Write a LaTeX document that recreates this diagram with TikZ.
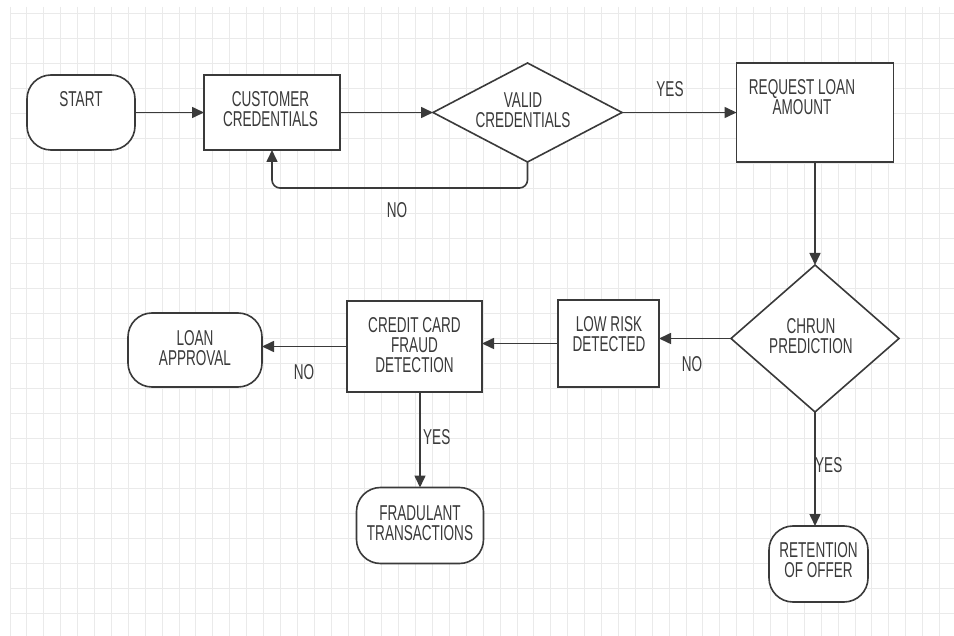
\documentclass[tikz,border=0pt]{standalone}
\usepackage{fontspec}
\setmainfont[FakeStretch=0.63]{Liberation Sans}
\usetikzlibrary{calc}
\usetikzlibrary{arrows.meta}
\usetikzlibrary{shapes.geometric}

\definecolor{inkgray}{HTML}{3A3A3A}
\definecolor{gridgray}{HTML}{EAEAEA}

\tikzset{
	gridline/.style={draw=gridgray, line width=0.9pt},
	procbox/.style={rectangle, draw=inkgray, line width=1.6pt, fill=white, inner sep=0pt, outer sep=0pt},
	termbox/.style={procbox, rounded corners=24pt},
	decbox/.style={diamond, draw=inkgray, line width=1.6pt, fill=white, inner sep=0pt, outer sep=0pt},
	boxtext/.style={align=center, text=inkgray, inner sep=0pt, font=\fontsize{21.5}{20}\selectfont},
	flow/.style={draw=inkgray, line width=1.6pt, -{Triangle[length=12pt,width=11pt]}},
}

\begin{document}
\begin{tikzpicture}[x=1pt, y=-1pt]
		\useasboundingbox (0,0) rectangle (954,636);
		\fill[white] (0,0) rectangle (954,636);
		\foreach \gx in {0,...,55} {
			\draw[gridline] ({10+16.9*\gx},7) -- ({10+16.9*\gx},636);
		}
		\foreach \gy in {0,...,24} {
			\draw[gridline] (10,{13+25*\gy}) -- (954,{13+25*\gy});
		}

		\node[termbox, minimum width=108pt, minimum height=75pt] (start) at (81,112.5) {};
		\node[procbox, minimum width=136pt, minimum height=75pt] (cust) at (272,112.5) {};
		\node[decbox, minimum width=189pt, minimum height=99pt] (valid) at (527.5,112.5) {};
		\node[procbox, minimum width=157pt, minimum height=99pt] (request) at (815,112.5) {};
		\node[decbox, minimum width=168pt, minimum height=147pt] (chrun) at (815,338.5) {};
		\node[procbox, minimum width=101pt, minimum height=87pt] (lowrisk) at (608.5,343.5) {};
		\node[procbox, minimum width=135pt, minimum height=91pt] (credit) at (414.5,346.5) {};
		\node[termbox, minimum width=134pt, minimum height=74pt] (loan) at (195,350) {};
		\node[termbox, minimum width=127pt, minimum height=76pt] (fraud) at (420,525.5) {};
		\node[termbox, minimum width=99pt, minimum height=76pt] (retention) at (818.5,564) {};

		\node[boxtext] (tStart) at (81,99.5) {START};
		\node[boxtext] (tCust) at (270.5,109.5) {CUSTOMER\\CREDENTIALS};
		\node[boxtext] (tValid) at (523,110.5) {VALID\\CREDENTIALS};
		\node[boxtext] (tRequest) at (802,97.5) {REQUEST LOAN\\AMOUNT};
		\node[boxtext] (tChrun) at (811,336.5) {CHRUN\\PREDICTION};
		\node[boxtext] (tLowrisk) at (609,334.5) {LOW RISK\\DETECTED};
		\node[boxtext] (tCredit) at (414.5,345) {CREDIT CARD\\FRAUD\\DETECTION};
		\node[boxtext] (tLoan) at (195,348) {LOAN\\APPROVAL};
		\node[boxtext] (tFraud) at (420,523.5) {FRADULANT\\TRANSACTIONS};
		\node[boxtext] (tRetention) at (818.5,560.5) {RETENTION\\OF OFFER};

		\draw[flow] (start.east) -- (cust.west);
		\draw[flow] (cust.east) -- (valid.west);
		\draw[flow] (valid.east) -- (request.west);
		\draw[flow, rounded corners=8pt] (valid.south) -- ++(0,26) -| (cust.south);
		\draw[flow] (request.south) -- (chrun.north);
		\draw[flow] (chrun.west) -- (chrun.west -| lowrisk.east);
		\draw[flow] (lowrisk.west) -- (lowrisk.west -| credit.east);
		\draw[flow] (credit.west) -- (credit.west -| loan.east);
		\draw[flow] (fraud.north |- credit.south) -- (fraud.north);
		\draw[flow] (chrun.south) -- (chrun.south |- retention.north);

		\node[boxtext] (yesValid) at (670,89) {YES};
		\node[boxtext] (noValid) at (397,210) {NO};
		\node[boxtext] (noChrun) at (692,364) {NO};
		\node[boxtext] (noCredit) at (304,372) {NO};
		\node[boxtext, anchor=west] (yesCredit) at (423,437) {YES};
		\node[boxtext, anchor=west] (yesChrun) at (815,465) {YES};
	\end{tikzpicture}
\end{document}
